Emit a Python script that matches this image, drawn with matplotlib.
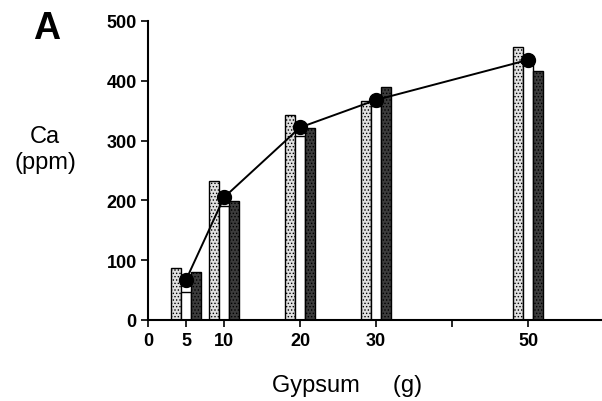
import numpy as np
import matplotlib
matplotlib.use('Agg')
import matplotlib.pyplot as plt

plt.rcParams['font.family'] = ['Liberation Sans', 'DejaVu Sans']
plt.rcParams['hatch.linewidth'] = 0.6

# gypsum dose (g) and Ca (ppm) for the three replicates plus the mean line
gypsum = np.array([5, 10, 20, 30, 50])
rep1 = [87, 232, 343, 366, 457]
rep2 = [47, 190, 308, 358, 428]
rep3 = [80, 199, 321, 390, 416]
mean_ca = [67, 205, 322, 368, 435]

xtick_pos = [0, 5, 10, 20, 30, 40, 50]
xtick_lbl = ['0', '5', '10', '20', '30', '', '50']
ytick_pos = [0, 100, 200, 300, 400, 500]

fig = plt.figure(figsize=(6.02, 4.02), dpi=100)
ax = fig.add_axes([0.2458, 0.2015, 0.7542, 0.7438])

w = 1.3
ax.bar(gypsum - w, rep1, width=w, color='#e0e0e0', edgecolor='black',
       linewidth=1.0, hatch='.....', zorder=2)
ax.bar(gypsum, rep2, width=w, color='white', edgecolor='black',
       linewidth=1.0, zorder=2)
ax.bar(gypsum + w, rep3, width=w, color='#3c3c3c', edgecolor='black',
       linewidth=1.0, hatch='.....', zorder=2)

ax.plot(gypsum, mean_ca, color='black', linewidth=1.4, marker='o',
        markersize=10, zorder=3)

ax.set_xlim(0, 59.7)
ax.set_ylim(0, 500)
ax.set_xticks(xtick_pos)
ax.set_xticklabels(xtick_lbl, fontsize=13, fontweight='bold')
ax.set_yticks(ytick_pos)
ax.set_yticklabels([str(v) for v in ytick_pos], fontsize=13, fontweight='bold')
ax.tick_params(axis='both', direction='out', length=5, width=1.2, color='black')
ax.tick_params(axis='x', pad=4)
ax.tick_params(axis='y', pad=3)

for s in ['top', 'right']:
    ax.spines[s].set_visible(False)
for s in ['left', 'bottom']:
    ax.spines[s].set_linewidth(1.5)

fig.text(47 / 602, 1 - 29 / 402, 'A', fontsize=27, fontweight='bold',
         ha='center', va='center')
fig.text(45 / 602, 1 - 150 / 402, 'Ca\n(ppm)', fontsize=17, ha='center',
         va='center', linespacing=1.2)
fig.text(347 / 602, 1 - 386 / 402, 'Gypsum     (g)', fontsize=17,
         ha='center', va='center')

fig.savefig('out.png', dpi=100)
